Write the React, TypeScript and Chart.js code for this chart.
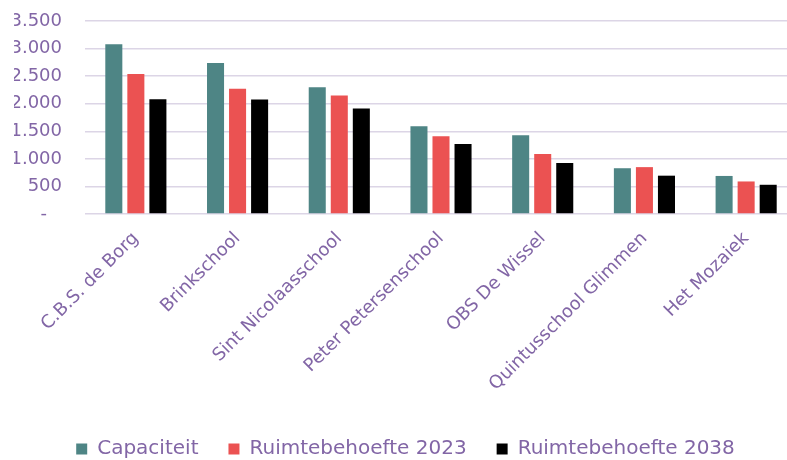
import { useEffect, useRef } from 'react';
import { Chart, registerables } from 'chart.js';
Chart.register(...registerables);

const categories = [
  'C.B.S. de Borg',
  'Brinkschool',
  'Sint Nicolaasschool',
  'Peter Petersenschool',
  'OBS De Wissel',
  'Quintusschool Glimmen',
  'Het Mozaiek',
];
const capaciteit = [3080, 2740, 2300, 1590, 1430, 830, 690];
const ruimte2023 = [2540, 2270, 2150, 1410, 1090, 850, 590];
const ruimte2038 = [2080, 2075, 1915, 1270, 925, 695, 530];
const seriesNames = ['Capaciteit', 'Ruimtebehoefte 2023', 'Ruimtebehoefte 2038'];
const yMax = 3500;
const yStep = 500;

const TEXT = '#8266A6';
const GRID = '#DCD5E6';
const FONT = '"DejaVu Sans", sans-serif';

function fmt(v: number): string {
  if (v === 0) return '-  \u2009';
  return String(v).replace(/\B(?=(\d{3})+(?!\d))/g, '.');
}

export default function App() {
  const ref = useRef<HTMLCanvasElement>(null);
  useEffect(() => {
    const chart = new Chart(ref.current!, {
      type: 'bar',
      data: {
        labels: categories,
        datasets: [
          { label: seriesNames[0], data: capaciteit, backgroundColor: '#4E8585' },
          { label: seriesNames[1], data: ruimte2023, backgroundColor: '#EB5252' },
          { label: seriesNames[2], data: ruimte2038, backgroundColor: '#000000' },
        ],
      },
      options: {
        responsive: false,
        animation: false,
        layout: { padding: { left: 14, right: 0, top: 21, bottom: -9 } },
        datasets: {
          bar: { categoryPercentage: 0.65, barPercentage: 0.773 },
        },
        plugins: {
          tooltip: { enabled: false },
          legend: {
            position: 'bottom',
            labels: {
              color: TEXT,
              font: { family: FONT, size: 20 },
              boxWidth: 11,
              boxHeight: 11,
              padding: 30,
            },
          },
        },
        scales: {
          x: {
            grid: { display: false },
            border: { display: false },
            ticks: {
              color: TEXT,
              font: { family: FONT, size: 18 },
              minRotation: 45,
              maxRotation: 45,
              autoSkip: false,
              padding: 6,
            },
            afterFit: (scale: any) => {
              scale.height = 195;
            },
          },
          y: {
            min: 0,
            max: yMax,
            grid: {
              color: GRID,
              lineWidth: 1.5,
              drawTicks: true,
              tickLength: 20,
              tickColor: 'rgba(0,0,0,0)',
            },
            border: { display: false },
            ticks: {
              stepSize: yStep,
              color: TEXT,
              font: { family: FONT, size: 18 },
              padding: 3,
              callback: (v: any) => fmt(Number(v)),
            },
            afterFit: (scale: any) => {
              scale.width = 71;
            },
          },
        },
      },
    });
    return () => chart.destroy();
  }, []);
  return (
    <div
      style={{
        position: 'absolute',
        left: 0,
        top: 0,
        width: 787,
        height: 460,
        overflow: 'hidden',
        background: '#ffffff',
      }}
    >
      <canvas ref={ref} width={797} height={460} />
    </div>
  );
}
